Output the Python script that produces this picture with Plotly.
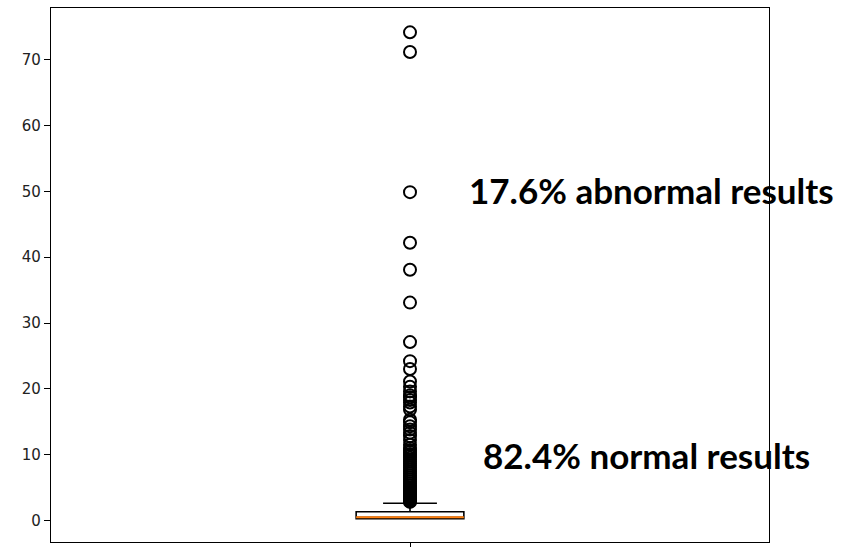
import plotly.graph_objects as go

# Box statistics
q1 = [0.25]
median = [0.45]
q3 = [1.3]
lower_fence = [0.3]
upper_fence = [2.6]

# Outlier values
outliers = [74.2, 71.2, 49.9, 42.2, 38.1, 33.1, 27.1, 24.2, 23.0, 21.1, 20.3, 19.6,
            19.0, 18.7, 18.3, 17.9, 17.3, 16.8, 15.3, 14.9, 14.3, 13.8, 13.3, 12.8,
            12.2, 11.5, 11.0, 10.7, 10.4, 10.1, 9.8, 9.5, 9.2, 8.9, 8.6, 8.3, 8.0,
            7.7, 7.4, 7.1, 6.8, 6.5, 6.2, 5.9, 5.6, 5.3, 5.0, 4.8, 4.6, 4.4, 4.2,
            4.0, 3.8, 3.6, 3.4, 3.2, 3.1, 3.0, 2.9, 2.8]

y_ticks = [0, 10, 20, 30, 40, 50, 60, 70]
annotations_text = ["17.6% abnormal results", "82.4% normal results"]

pos = 1
box_w = 0.15

fig = go.Figure()
fig.add_trace(go.Box(
    x=[pos], q1=q1, median=median, q3=q3,
    lowerfence=lower_fence, upperfence=upper_fence,
    width=box_w, whiskerwidth=0.5, boxpoints=False,
    line=dict(color="black", width=1.6), fillcolor="rgba(255,255,255,0)",
    showlegend=False,
))
fig.add_trace(go.Scatter(
    x=[pos - box_w / 2, pos + box_w / 2], y=[median[0], median[0]],
    mode="lines", line=dict(color="#ff7f0e", width=2), showlegend=False,
))
fig.add_trace(go.Scatter(
    x=[pos] * len(outliers), y=outliers, mode="markers",
    marker=dict(symbol="circle-open", size=12, color="black", line=dict(width=2)),
    showlegend=False,
))

fig.add_annotation(text="<b>" + annotations_text[0] + "</b>", xref="paper", yref="paper",
                   x=0.836, y=0.659, xanchor="center", yanchor="middle", showarrow=False,
                   font=dict(family="Lato", size=35, color="black"))
fig.add_annotation(text="<b>" + annotations_text[1] + "</b>", xref="paper", yref="paper",
                   x=0.829, y=0.163, xanchor="center", yanchor="middle", showarrow=False,
                   font=dict(family="Lato", size=35, color="black"))

fig.update_layout(
    width=843, height=547,
    margin=dict(l=51, r=74, t=8, b=5, autoexpand=False),
    paper_bgcolor="white", plot_bgcolor="white",
    xaxis=dict(range=[0.5, 1.5], showgrid=False, zeroline=False, showline=True,
               mirror=True, linecolor="black", linewidth=1.3, automargin=False,
               tickvals=[pos], ticktext=[""], ticks="outside", ticklen=6,
               tickcolor="black"),
    yaxis=dict(range=[-3.3, 77.9], showgrid=False, zeroline=False, showline=True,
               mirror=True, linecolor="black", linewidth=1.3, automargin=False,
               tickvals=y_ticks, ticks="outside", ticklen=6, tickcolor="black",
               tickfont=dict(family="DejaVu Sans", size=15, color="#222")),
)

fig.write_html("out.html")
